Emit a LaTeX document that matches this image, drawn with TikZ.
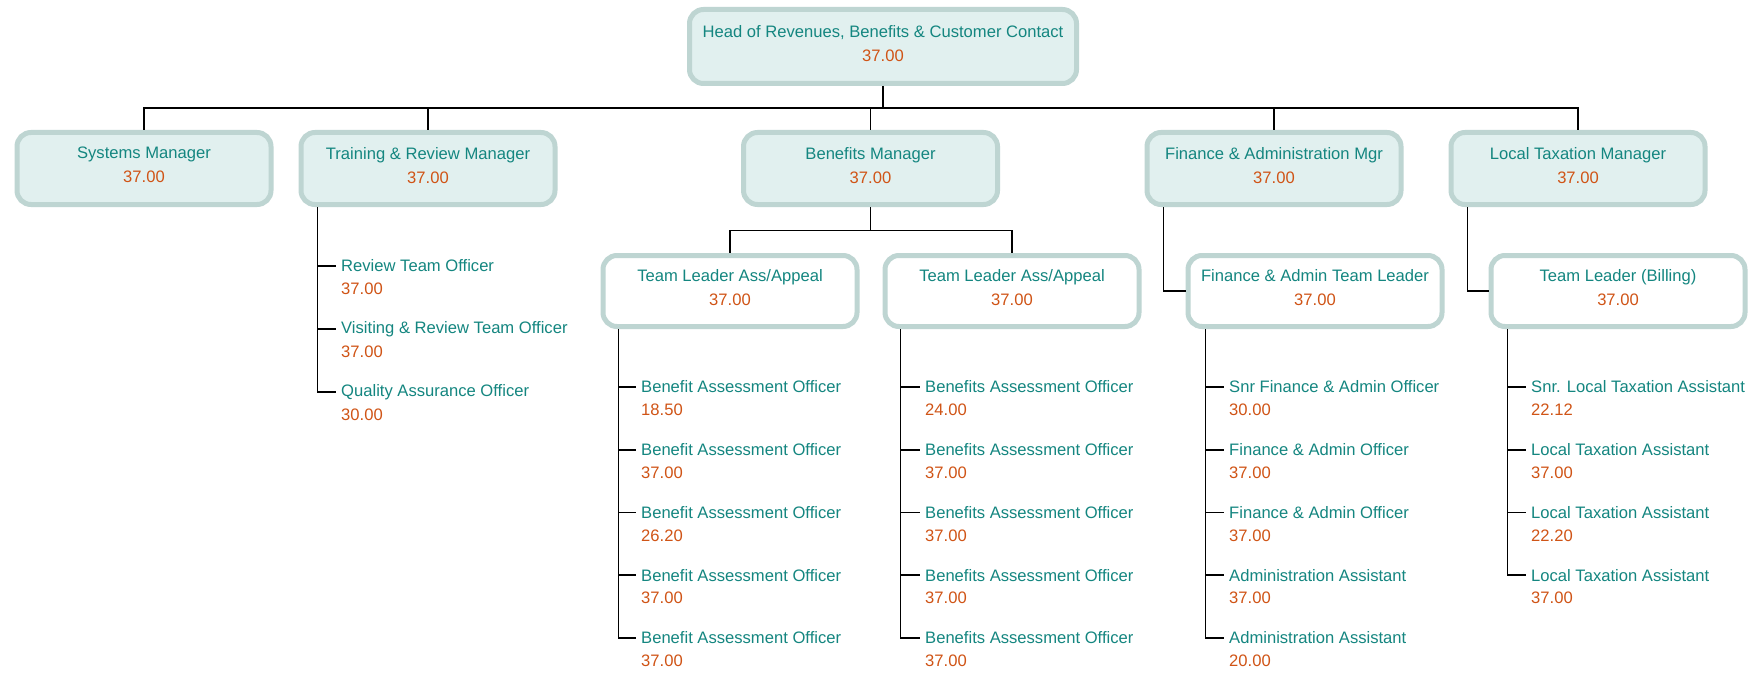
\documentclass[tikz,border=0pt]{standalone}
\usepackage{fontspec}
\setmainfont{Liberation Sans}
\definecolor{ttl}{RGB}{20,134,128}
\definecolor{val}{RGB}{208,84,22}
\definecolor{bord}{RGB}{190,213,210}
\definecolor{fillc}{RGB}{225,240,239}
\newcommand\bt[2]{\textcolor{ttl}{#1}\\\textcolor{val}{#2}}
\tikzset{
  box/.style={draw=bord, line width=5pt, rounded corners=14pt, minimum width=254pt,
    minimum height=72pt, align=center, inner sep=0pt, text depth=7pt, font=\fontsize{16.6}{24}\selectfont},
  shadebox/.style={box, fill=fillc},
  plainbox/.style={box, fill=white},
  leaf/.style={anchor=west, inner xsep=5pt, inner ysep=0pt, text=ttl, font=\fontsize{16.6}{20}\selectfont},
  num/.style={anchor=west, inner xsep=5pt, inner ysep=0pt, text=val, font=\fontsize{16.6}{20}\selectfont},
  conn/.style={line width=1.6pt, black}
}
\begin{document}
\begin{tikzpicture}[x=1pt,y=-1pt]
\useasboundingbox[fill=white] (0,0) rectangle (1755,674);
% top
\node[shadebox, minimum width=387pt, minimum height=74pt] (head) at (883,46.5) {\bt{Head of Revenues, Benefits \& Customer Contact}{37.00}};
% level 1
\node[shadebox] (sys) at (144,168.5) {\bt{Systems Manager}{37.00}};
\node[shadebox] (trn) at (428,168.5) {\bt{Training \& Review Manager}{37.00}};
\node[shadebox] (ben) at (870.5,168.5) {\bt{Benefits Manager}{37.00}};
\node[shadebox] (fin) at (1274,168.5) {\bt{Finance \& Administration Mgr}{37.00}};
\node[shadebox] (tax) at (1578,168.5) {\bt{Local Taxation Manager}{37.00}};
% level 2
\node[plainbox, minimum height=71pt] (tl1) at (730,291) {\bt{Team Leader Ass/Appeal}{37.00}};
\node[plainbox, minimum height=71pt] (tl2) at (1012,291) {\bt{Team Leader Ass/Appeal}{37.00}};
\node[plainbox, minimum height=71pt] (ftl) at (1315,291) {\bt{Finance \& Admin Team Leader}{37.00}};
\node[plainbox, minimum height=71pt] (bil) at (1618,291) {\bt{Team Leader (Billing)}{37.00}};
% top connectors
\coordinate (bus) at (883,108);
\draw[conn] (head.south) -- (bus);
\draw[conn] (sys.north) |- (bus) -| (tax.north);
\draw[conn] (trn.north) -- (trn.north |- bus);
\draw[conn] (ben.north) -- (ben.north |- bus);
\draw[conn] (fin.north) -- (fin.north |- bus);
\draw[conn] (ben.south) -- ++(0,23.5) coordinate (bj) -| (tl1.north);
\draw[conn] (bj) -| (tl2.north);
\draw[conn] ([xshift=19pt]fin.south west) |- (ftl.west);
\draw[conn] ([xshift=19pt]tax.south west) |- (bil.west);
% training leaves
\foreach \i/\t/\v in {1/Review Team Officer/37.00, 2/Visiting \& Review Team Officer/37.00, 3/Quality Assurance Officer/30.00}{
  \node[leaf] (r\i) at (336,{265+(\i-1)*63+1}) {\t};
  \node[num] (rv\i) at (336,{265+(\i-1)*63+24}) {\v};
  \draw[conn] ([xshift=19pt]trn.south west) |- (r\i.west);
}
% TL1 leaves
\foreach \i/\t/\v in {1/Benefit Assessment Officer/18.50, 2/Benefit Assessment Officer/37.00, 3/Benefit Assessment Officer/26.20, 4/Benefit Assessment Officer/37.00, 5/Benefit Assessment Officer/37.00}{
  \node[leaf] (a\i) at (636,{386+(\i-1)*62.75+1}) {\t};
  \node[num] (av\i) at (636,{386+(\i-1)*62.75+24}) {\v};
  \draw[conn] ([xshift=18pt]tl1.south west) |- (a\i.west);
}
% TL2 leaves
\foreach \i/\t/\v in {1/Benefits Assessment Officer/24.00, 2/Benefits Assessment Officer/37.00, 3/Benefits Assessment Officer/37.00, 4/Benefits Assessment Officer/37.00, 5/Benefits Assessment Officer/37.00}{
  \node[leaf] (b\i) at (920,{386+(\i-1)*62.75+1}) {\t};
  \node[num] (bv\i) at (920,{386+(\i-1)*62.75+24}) {\v};
  \draw[conn] ([xshift=18pt]tl2.south west) |- (b\i.west);
}
% Finance leaves
\foreach \i/\t/\v in {1/Snr Finance \& Admin Officer/30.00, 2/Finance \& Admin Officer/37.00, 3/Finance \& Admin Officer/37.00, 4/Administration Assistant/37.00, 5/Administration Assistant/20.00}{
  \node[leaf] (f\i) at (1224,{386+(\i-1)*62.75+1}) {\t};
  \node[num] (fv\i) at (1224,{386+(\i-1)*62.75+24}) {\v};
  \draw[conn] ([xshift=20pt]ftl.south west) |- (f\i.west);
}
% Billing leaves
\foreach \i/\t/\v in {1/Snr. Local Taxation Assistant/22.12, 2/Local Taxation Assistant/37.00, 3/Local Taxation Assistant/22.20, 4/Local Taxation Assistant/37.00}{
  \node[leaf] (l\i) at (1526,{386+(\i-1)*62.75+1}) {\t};
  \node[num] (lv\i) at (1526,{386+(\i-1)*62.75+24}) {\v};
  \draw[conn] ([xshift=19pt]bil.south west) |- (l\i.west);
}
\end{tikzpicture}
\end{document}
